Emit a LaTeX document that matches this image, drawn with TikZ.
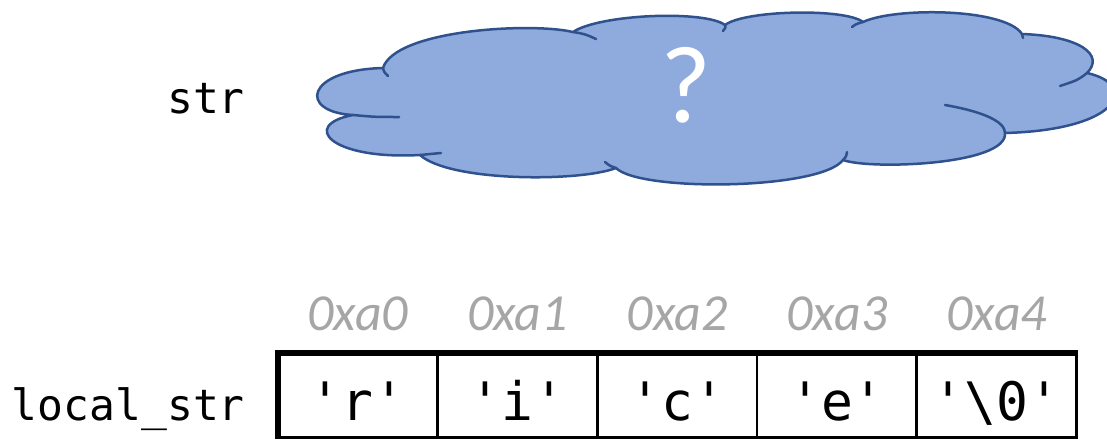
\documentclass[tikz,border=0pt]{standalone}
\usepackage{fontspec}
\newfontfamily\monofont{DejaVu Sans Mono}
\newfontfamily\calibfont{Carlito}
\definecolor{cloudfill}{HTML}{8FAADC}
\definecolor{cloudline}{HTML}{2F528F}
\definecolor{addrgray}{HTML}{A6A6A6}
\tikzset{
  cloudpart/.style={draw=cloudline, line width=2.5pt, line join=round, line cap=round},
  varlabel/.style={anchor=base east, inner sep=0pt, font=\monofont\fontsize{43}{43}\selectfont},
  celltext/.style={anchor=base, inner sep=0pt, font=\monofont\fontsize{53}{53}\selectfont},
  addrtext/.style={anchor=base, inner sep=0pt, text=addrgray, font=\calibfont\itshape\fontsize{52}{52}\selectfont},
  cellbox/.style={draw, line width=2.7pt, minimum width=159.7pt, minimum height=84.5pt, inner sep=0pt},
  qtext/.style={anchor=base, inner sep=0pt, text=white, font=\calibfont\fontsize{110}{110}\selectfont},
}
\begin{document}
\begin{tikzpicture}[x=1pt,y=-1pt]
\useasboundingbox (0,0) rectangle (1107,439);
% cloud
\path[cloudpart, fill=cloudfill]
  (383,68) .. controls (395,30) and (530,22) .. (573,32)
  .. controls (600,14) and (705,10) .. (725,25)
  .. controls (745,10) and (845,8) .. (863,22)
  .. controls (895,7) and (1005,8) .. (1022,34)
  .. controls (1080,36) and (1105,55) .. (1087,73)
  .. controls (1140,85) and (1120,130) .. (1005,133)
  .. controls (1008,165) and (870,170) .. (843,160)
  .. controls (820,190) and (640,192) .. (616,168)
  .. controls (580,182) and (450,182) .. (420,155)
  .. controls (330,160) and (300,125) .. (353,115)
  .. controls (298,112) and (305,70) .. (383,68) -- cycle;
\draw[cloudpart] (383,68) .. controls (384,72) .. (388,76);
\draw[cloudpart] (353,115) .. controls (375,117) .. (399,117);
\draw[cloudpart] (420,155) .. controls (430,154) .. (441,153);
\draw[cloudpart] (573,32) .. controls (585,34) .. (596,39);
\draw[cloudpart] (725,25) .. controls (726,27) .. (723,31);
\draw[cloudpart] (852,27) .. controls (856,24) .. (863,22);
\draw[cloudpart] (1022,34) .. controls (1023,36) .. (1023,38);
\draw[cloudpart] (1087,73) .. controls (1078,80) .. (1060,86);
\draw[cloudpart] (945,105) .. controls (985,112) and (1005,122) .. (1005,133);
\draw[cloudpart] (843,160) .. controls (846,157) .. (847,152);
\draw[cloudpart] (616,168) .. controls (610,166) .. (605,162);
\node[qtext] (qmark) at (686,122) {?};
% labels
\node[varlabel] (strlabel) at (245,113) {str};
\node[varlabel] (locallabel) at (245,420) {local\_str};
% cells
\foreach \i/\cx/\ch/\ad in {0/357.85/{'r'}/0xa0, 1/517.55/{'i'}/0xa1, 2/677.25/{'c'}/0xa2, 3/836.95/{'e'}/0xa3, 4/996.65/{'\textbackslash0'}/0xa4}{
  \node[cellbox] (cell\i) at (\cx,395.25) {};
  \node[celltext] (val\i) at (\cx,420) {\ch};
  \node[addrtext] (addr\i) at (\cx,330) {\ad};
}
\draw[line width=6pt] (275,353) -- (1078,353);
\draw[line width=6pt] (278,350) -- (278,439);
\end{tikzpicture}
\end{document}
